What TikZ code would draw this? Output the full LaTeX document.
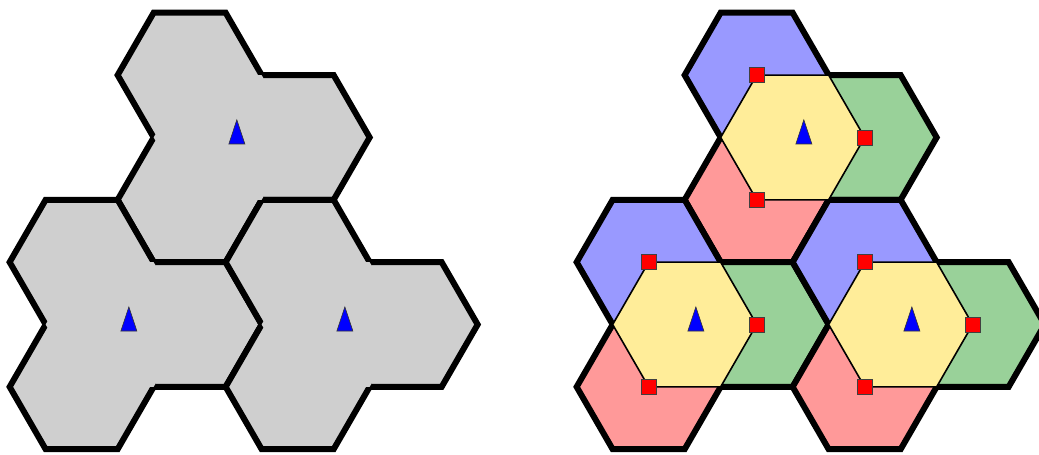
\documentclass[tikz,border=0pt]{standalone}
\usetikzlibrary{calc}
\definecolor{hexgray}{RGB}{207,207,207}
\definecolor{hexblue}{RGB}{153,153,255}
\definecolor{hexgreen}{RGB}{153,209,153}
\definecolor{hexred}{RGB}{255,153,153}
\definecolor{hexyellow}{RGB}{255,237,153}
\newcommand\hexpath[1]{([shift={#1}]0:72) -- ([shift={#1}]60:72) -- ([shift={#1}]120:72) -- ([shift={#1}]180:72) -- ([shift={#1}]240:72) -- ([shift={#1}]300:72) -- cycle}
\begin{document}
\begin{tikzpicture}[x=1pt,y=-1pt,line join=miter,
  hexcell/.style={line width=6pt, draw=black},
  yellowhex/.style={fill=hexyellow, draw=black, line width=1.6pt},
  redsq/.style={rectangle, fill=red, draw=black!75, line width=0.7pt, minimum size=15pt, inner sep=0pt},
  marktri/.style={fill=blue, draw=black!80, line width=0.6pt}]
\useasboundingbox (0,0) rectangle (1039,455);
\clip (0,0) rectangle (1039,455);
% triple points of the groups
\coordinate (LA) at (225.65,137.45);
\coordinate (LB) at (117.65,324.51);
\coordinate (LC) at (333.65,324.51);
\coordinate (RA) at (792.65,137.45);
\coordinate (RB) at (684.65,324.51);
\coordinate (RC) at (900.65,324.51);
% left figure: gray cells
\foreach \g in {LA,LB,LC}{
  \begin{scope}[shift={(\g)}]
    \filldraw[hexcell, fill=hexgray] \hexpath{(-36,-62.354)};
    \filldraw[hexcell, fill=hexgray] \hexpath{(72,0)};
    \filldraw[hexcell, fill=hexgray] \hexpath{(-36,62.354)};
  \end{scope}}
\foreach \g in {LA,LB,LC}{
  \begin{scope}[shift={(\g)}]
    \fill[hexgray] \hexpath{(0,0)};
    \filldraw[marktri] (11.2,-17.6) -- (19.2,6.5) -- (3.2,6.5) -- cycle;
  \end{scope}}
% right figure: coloured cells
\foreach \g in {RA,RB,RC}{
  \begin{scope}[shift={(\g)}]
    \filldraw[hexcell, fill=hexblue] \hexpath{(-36,-62.354)};
    \filldraw[hexcell, fill=hexgreen] \hexpath{(72,0)};
    \filldraw[hexcell, fill=hexred] \hexpath{(-36,62.354)};
  \end{scope}}
\foreach \g in {RA,RB,RC}{
  \begin{scope}[shift={(\g)}]
    \filldraw[yellowhex] \hexpath{(0,0)};
    \node[redsq] (\g-b) at (-36,-62.354) {};
    \node[redsq] (\g-g) at (72,0) {};
    \node[redsq] (\g-r) at (-36,62.354) {};
    \filldraw[marktri] (11.2,-17.6) -- (19.2,6.5) -- (3.2,6.5) -- cycle;
  \end{scope}}
\end{tikzpicture}
\end{document}
